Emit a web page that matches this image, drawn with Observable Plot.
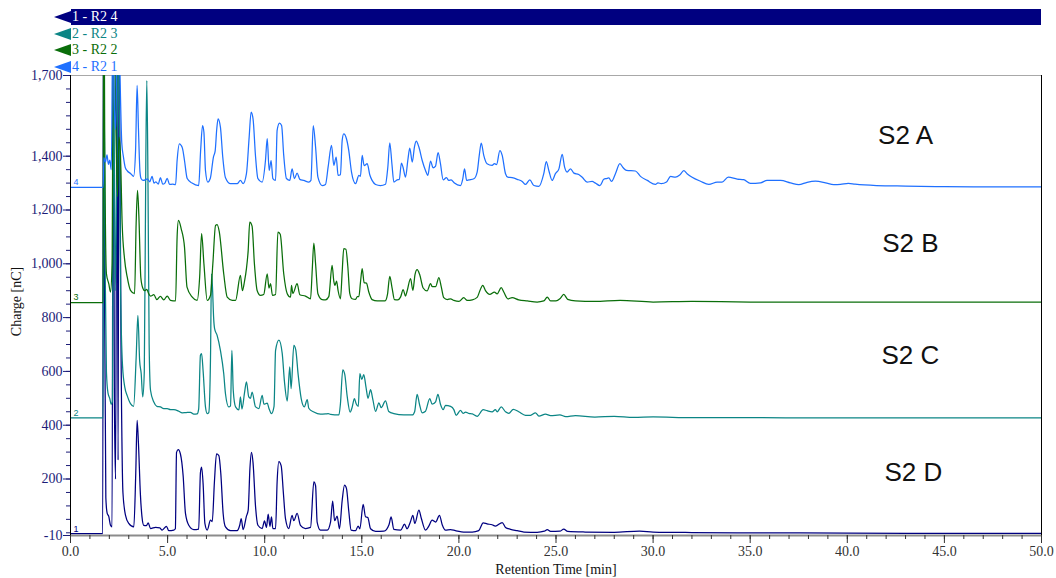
<!DOCTYPE html>
<html>
<head>
<meta charset="utf-8">
<script src="https://cdn.jsdelivr.net/npm/d3@7"></script>
<script src="https://cdn.jsdelivr.net/npm/@observablehq/plot@0.6"></script>
<style>
  body { margin: 0; background: #fff; }
  #chart { position: relative; width: 1056px; height: 578px; background: #fff; }
  #legend { position: relative; z-index: 2; height: 50px; font-family: "Liberation Serif", "Times New Roman", serif; font-size: 14px; }
  #plot { position: relative; z-index: 1; }
  .row { position: absolute; left: 54px; height: 16px; line-height: 16px; white-space: nowrap; }
  .row svg { position: absolute; left: 0; top: 2px; }
  .row span { position: absolute; left: 18px; top: 0; }
  .row .fill { position: absolute; left: 17px; top: 0; height: 16px; }
</style>
</head>
<body>
<div id="chart">
  <div id="legend"></div>
  <div id="plot"></div>
</div>
<script>
// Retention time (min) / charge (nC) pairs for each chromatogram, read peak by peak.
// Trace 4 – R2 1 (sample S2 A)
const s2A = [
  [0,1284],[1.68,1284],[1.72,1395],[1.80,1378],[1.88,1405],[1.95,1370],[2.02,1385],[2.10,1350],
  [2.18,1900],[2.25,1600],[2.33,1500],[2.42,2100],[2.52,1800],[2.64,1450],[2.72,1400],[2.82,1358],
  [2.93,1345],[3.09,1336],[3.25,1325],[3.35,1420],[3.43,1663],[3.50,1500],[3.58,1340],[3.64,1316],
  [3.74,1310],[3.85,1312],[3.95,1316],[4.08,1305],[4.20,1325],[4.30,1300],[4.40,1305],[4.52,1296],
  [4.63,1320],[4.75,1296],[4.86,1300],[4.98,1318],[5.10,1295],[5.25,1296],[5.41,1294],[5.49,1384],
  [5.61,1446],[5.70,1440],[5.77,1428],[5.87,1384],[6.01,1317],[6.26,1300],[6.60,1291],[6.70,1420],
  [6.80,1514],[6.87,1489],[6.95,1347],[7.07,1304],[7.20,1318],[7.36,1397],[7.45,1420],[7.53,1500],
  [7.60,1539],[7.72,1508],[7.84,1397],[7.98,1320],[8.24,1298],[8.58,1298],[8.75,1310],[8.89,1298],
  [9.06,1335],[9.20,1471],[9.30,1564],[9.40,1539],[9.53,1397],[9.65,1317],[9.87,1304],[10.04,1384],
  [10.13,1465],[10.23,1347],[10.33,1384],[10.42,1317],[10.56,1310],[10.64,1496],[10.76,1523],[10.87,1514],
  [10.98,1403],[11.12,1317],[11.29,1310],[11.41,1353],[11.53,1317],[11.67,1337],[11.81,1314],[12.01,1310],
  [12.27,1304],[12.38,1310],[12.50,1514],[12.62,1434],[12.74,1322],[12.96,1291],[13.13,1295],[13.27,1362],
  [13.44,1440],[13.56,1366],[13.68,1397],[13.78,1329],[13.90,1331],[13.99,1459],[14.07,1483],[14.21,1465],
  [14.33,1421],[14.47,1341],[14.68,1298],[14.85,1329],[14.93,1325],[15.02,1403],[15.12,1365],[15.28,1372],
  [15.41,1331],[15.53,1310],[15.71,1295],[15.96,1291],[16.22,1296],[16.34,1359],[16.44,1450],[16.55,1372],
  [16.65,1304],[16.82,1312],[16.93,1314],[17.04,1374],[17.12,1360],[17.25,1322],[17.37,1385],[17.47,1430],
  [17.60,1378],[17.71,1434],[17.80,1456],[17.94,1434],[18.11,1384],[18.28,1347],[18.40,1329],[18.54,1382],
  [18.67,1357],[18.79,1362],[18.93,1413],[19.05,1372],[19.19,1312],[19.36,1320],[19.48,1310],[19.60,1312],
  [19.77,1300],[20.08,1291],[20.20,1316],[20.29,1353],[20.40,1310],[20.51,1312],[20.77,1316],[20.94,1341],
  [21.05,1404],[21.15,1449],[21.28,1403],[21.45,1372],[21.71,1366],[21.83,1372],[21.94,1369],[22.11,1421],
  [22.23,1403],[22.40,1335],[22.52,1322],[22.74,1320],[23.00,1314],[23.26,1306],[23.43,1295],[23.65,1312],
  [23.86,1291],[24.12,1288],[24.37,1335],[24.50,1380],[24.63,1347],[24.80,1310],[24.97,1335],[25.15,1353],
  [25.32,1407],[25.44,1360],[25.57,1341],[25.75,1353],[25.92,1337],[26.17,1332],[26.35,1322],[26.60,1304],
  [26.86,1306],[27.03,1300],[27.26,1291],[27.46,1314],[27.60,1317],[27.72,1319],[27.86,1306],[28.06,1335],
  [28.29,1372],[28.46,1357],[28.63,1347],[29.09,1345],[29.35,1325],[29.70,1310],[30.12,1295],[30.25,1301],
  [30.42,1298],[30.69,1304],[30.90,1325],[31.15,1322],[31.37,1330],[31.58,1346],[31.75,1335],[32.01,1322],
  [32.44,1307],[32.87,1295],[33.30,1304],[33.55,1304],[33.87,1322],[34.33,1315],[34.66,1313],[35.01,1299],
  [35.53,1301],[35.87,1310],[36.56,1310],[37.07,1301],[37.50,1294],[37.93,1303],[38.36,1307],[38.88,1301],
  [39.30,1294],[39.65,1295],[40.05,1299],[40.40,1296],[41.5,1291],[43,1289],[45,1287],[47,1286],[50,1286]
];

// Trace 3 – R2 2 (sample S2 B)
const s2B = [
  [0,856],[1.68,856],[1.71,2300],[1.76,1500],[1.85,963],[1.97,926],[2.06,895],[2.14,1000],
  [2.22,2200],[2.32,1600],[2.42,1250],[2.49,1471],[2.57,1409],[2.66,1150],[2.78,1020],[2.92,951],
  [3.09,901],[3.30,889],[3.38,1150],[3.45,1273],[3.52,1180],[3.62,950],[3.72,910],[3.82,900],
  [3.93,905],[4.02,890],[4.12,880],[4.29,885],[4.45,867],[4.63,879],[4.80,866],[4.98,880],
  [5.15,864],[5.41,862],[5.49,1100],[5.56,1161],[5.70,1130],[5.87,1062],[6.00,913],[6.27,876],
  [6.52,864],[6.65,950],[6.75,1112],[6.87,1000],[7.04,864],[7.21,883],[7.33,1000],[7.47,1143],
  [7.55,1146],[7.66,1120],[7.89,963],[8.07,876],[8.33,864],[8.50,864],[8.75,957],[8.85,900],
  [8.96,935],[9.06,982],[9.15,1050],[9.23,1155],[9.35,1140],[9.47,1000],[9.61,901],[9.78,883],
  [9.95,886],[10.13,963],[10.22,910],[10.30,926],[10.40,883],[10.56,886],[10.68,1118],[10.80,1110],
  [10.98,963],[11.16,889],[11.33,876],[11.38,920],[11.45,890],[11.67,926],[11.81,885],[12.10,880],
  [12.36,870],[12.45,980],[12.53,1077],[12.62,1000],[12.74,889],[12.96,867],[13.13,866],[13.30,878],
  [13.47,994],[13.56,935],[13.62,920],[13.70,936],[13.78,900],[13.90,870],[13.99,970],[14.07,1056],
  [14.18,1054],[14.28,990],[14.38,890],[14.50,870],[14.68,868],[14.77,878],[14.85,878],[14.93,930],
  [15.02,982],[15.12,930],[15.24,928],[15.36,895],[15.53,867],[15.80,862],[16.20,862],[16.32,885],
  [16.44,953],[16.56,910],[16.68,867],[16.85,866],[17.00,877],[17.13,904],[17.25,880],[17.33,898],
  [17.51,945],[17.63,901],[17.74,960],[17.85,978],[17.98,960],[18.16,910],[18.36,899],[18.54,926],
  [18.63,915],[18.80,915],[18.97,949],[19.09,915],[19.22,874],[19.40,867],[19.57,870],[19.74,864],
  [20.00,860],[20.25,874],[20.43,864],[20.69,866],[20.94,875],[21.08,900],[21.23,920],[21.37,900],
  [21.59,886],[21.83,895],[21.97,888],[22.18,911],[22.31,895],[22.52,870],[22.74,874],[23.08,866],
  [23.52,862],[24.03,858],[24.37,862],[24.55,876],[24.72,862],[25.00,862],[25.20,870],[25.40,886],
  [25.60,868],[26.00,862],[27.00,860],[28.30,864],[30,858],[32,860],[35,858],[40,858],[45,858],[50,858]
];

// Trace 2 – R2 3 (sample S2 C)
const s2C = [
  [0,427],[1.68,427],[1.71,1900],[1.78,1000],[1.85,600],[1.93,520],[2.02,500],[2.10,478],
  [2.16,490],[2.22,1800],[2.30,900],[2.38,1300],[2.48,1900],[2.58,900],[2.68,620],[2.80,540],
  [2.92,510],[3.09,480],[3.25,470],[3.38,650],[3.47,808],[3.56,640],[3.64,592],[3.72,505],
  [3.80,600],[3.88,1400],[3.93,1681],[3.99,1300],[4.05,700],[4.12,530],[4.29,486],[4.45,470],
  [4.63,468],[4.80,462],[4.98,462],[5.15,458],[5.32,458],[5.58,452],[5.75,446],[5.95,447],
  [6.18,448],[6.35,441],[6.52,442],[6.60,460],[6.69,660],[6.75,666],[6.83,600],[6.95,468],
  [7.04,443],[7.12,447],[7.21,654],[7.26,963],[7.31,914],[7.37,800],[7.42,759],[7.55,734],
  [7.72,678],[7.89,592],[7.98,517],[8.15,468],[8.24,472],[8.31,678],[8.38,530],[8.50,468],
  [8.67,457],[8.75,505],[8.83,460],[8.96,520],[9.06,561],[9.18,505],[9.27,500],[9.35,523],
  [9.53,468],[9.70,462],[9.87,511],[9.96,478],[10.13,482],[10.22,462],[10.35,443],[10.48,470],
  [10.56,678],[10.73,716],[10.90,668],[11.02,560],[11.16,490],[11.29,617],[11.36,536],[11.50,697],
  [11.60,680],[11.72,590],[11.88,499],[12.04,468],[12.19,495],[12.27,463],[12.53,449],[12.87,441],
  [13.13,442],[13.27,443],[13.39,440],[13.82,438],[13.90,480],[14.02,606],[14.12,590],[14.25,506],
  [14.40,449],[14.50,466],[14.62,499],[14.71,480],[14.82,470],[14.90,592],[15.00,570],[15.10,588],
  [15.22,540],[15.32,500],[15.45,532],[15.57,495],[15.71,451],[15.88,483],[16.00,465],[16.22,490],
  [16.39,451],[16.65,443],[17.17,438],[17.60,438],[17.72,450],[17.85,515],[17.97,478],[18.11,446],
  [18.28,452],[18.50,499],[18.62,478],[18.80,487],[18.92,515],[19.05,478],[19.19,458],[19.31,474],
  [19.57,470],[19.74,458],[19.86,437],[20.08,455],[20.22,444],[20.34,449],[20.51,444],[20.69,442],
  [20.94,433],[21.25,458],[21.45,454],[21.71,450],[21.88,458],[21.97,450],[22.18,468],[22.40,450],
  [22.57,444],[22.80,459],[23.08,450],[23.43,437],[23.69,437],[23.94,446],[24.12,434],[24.46,441],
  [24.72,436],[25.2,438],[25.5,432],[26,436],[27,430],[28,433],[29,429],[30,431],[32,428],
  [35,428],[40,427],[45,427],[50,427]
];

// Trace 1 – R2 4 (sample S2 D)
const s2D = [
  [0,-3],[1.66,-3],[1.70,2200],[1.76,800],[1.82,130],[1.89,72],[1.97,61],[2.06,28],
  [2.14,22],[2.20,1900],[2.26,500],[2.32,200],[2.40,1900],[2.45,270],[2.50,1900],[2.60,700],
  [2.70,150],[2.83,66],[3.00,35],[3.26,22],[3.36,220],[3.43,418],[3.50,330],[3.60,142],
  [3.68,60],[3.77,28],[3.91,27],[4.00,37],[4.12,16],[4.38,20],[4.60,18],[4.72,10],
  [4.94,24],[5.06,8],[5.32,10],[5.40,15],[5.46,299],[5.55,309],[5.66,293],[5.80,212],
  [5.92,72],[6.09,28],[6.35,12],[6.60,14],[6.69,223],[6.75,244],[6.83,180],[6.92,35],
  [7.04,10],[7.21,47],[7.30,42],[7.41,188],[7.52,293],[7.64,287],[7.74,220],[7.86,72],
  [7.98,22],[8.24,8],[8.58,8],[8.72,30],[8.79,53],[8.89,12],[9.06,62],[9.15,84],
  [9.24,240],[9.32,299],[9.40,260],[9.53,96],[9.65,28],[9.87,16],[9.99,44],[10.09,20],
  [10.18,69],[10.27,24],[10.35,59],[10.42,16],[10.56,16],[10.64,190],[10.73,265],[10.85,249],
  [10.96,150],[11.07,53],[11.24,16],[11.41,65],[11.50,45],[11.67,72],[11.84,28],[12.10,16],
  [12.36,20],[12.53,189],[12.62,175],[12.70,40],[12.87,10],[13.22,10],[13.39,40],[13.50,118],
  [13.60,45],[13.73,62],[13.85,15],[13.99,120],[14.11,177],[14.21,165],[14.33,80],[14.45,10],
  [14.68,8],[14.81,25],[14.90,15],[15.07,106],[15.19,60],[15.31,57],[15.45,15],[15.71,5],
  [16.14,6],[16.40,30],[16.51,59],[16.65,13],[17.00,10],[17.20,32],[17.33,15],[17.50,40],
  [17.63,65],[17.73,35],[17.94,84],[18.06,55],[18.28,10],[18.45,25],[18.62,47],[18.80,40],
  [19.00,65],[19.14,30],[19.31,10],[19.57,12],[19.82,8],[20.34,3],[20.69,3],[21.02,8],
  [21.25,37],[21.45,33],[21.71,30],[21.88,25],[22.23,38],[22.40,20],[22.66,13],[23.00,8],
  [23.35,3],[24.03,2],[24.40,6],[24.55,12],[24.72,5],[25.2,6],[25.4,14],[25.6,5],
  [26.5,3],[28,2],[29.3,6],[30,3],[32,1],[35,0],[40,-1],[45,-2],[50,-2]
];

// Trace numbering, channel names and sample names
const traceIds = [1, 2, 3, 4];
const channelNames = ["R2 4", "R2 3", "R2 2", "R2 1"];
const sampleNames = ["S2 D", "S2 C", "S2 B", "S2 A"];
const traceSeries = [s2D, s2C, s2B, s2A];

// Axis ticks
const yLabelTicks = [-10, 200, 400, 600, 800, 1000, 1200, 1400, 1700];
const yMinorTicks = d3.range(0, 1700, 50);
const xLabelTicks = d3.range(0, 51, 5);
const xMinorTicks = d3.range(0, 51, 1);

const colors = ["#000080", "#0b8585", "#0a6e0a", "#1f70ff"];

const rows = traceSeries.flatMap((series, i) =>
  series.map(([t, v]) => ({trace: traceIds[i], t, charge: v}))
);
const baselines = traceSeries.map((series, i) => ({trace: traceIds[i], t: series[0][0], charge: series[0][1]}));

// Legend strip above the chart: one row per trace, the first one highlighted
const legend = document.getElementById("legend");
traceIds.forEach((id, i) => {
  const row = document.createElement("div");
  row.className = "row";
  row.style.top = (9 + i * 16.5) + "px";
  const c = colors[i];
  row.innerHTML =
    (i === 0 ? `<div class="fill" style="width:970px;background:${c}"></div>` : "") +
    `<svg width="17" height="12"><polygon points="0,6 17,0 17,12" fill="${c}"/></svg>` +
    `<span style="color:${i === 0 ? "#fff" : c}">${id} - ${channelNames[i]}</span>`;
  legend.appendChild(row);
});

const fmt = d => d.toLocaleString("en-US");
const axisColor = "#1c1c78";

const chart = Plot.plot({
  width: 1056,
  height: 528,
  marginTop: 25,
  marginBottom: 43,
  marginLeft: 70,
  marginRight: 15,
  x: {domain: [0, 50]},
  y: {domain: [-10, 1700]},
  color: {domain: traceIds, range: colors},
  style: {fontFamily: "'Liberation Serif', 'Times New Roman', serif", fontSize: "14px", background: "transparent"},
  marks: [
    Plot.ruleY([1700], {stroke: "#a8a8a8"}),
    Plot.lineY(rows, {x: "t", y: "charge", z: "trace", stroke: "trace", strokeWidth: 1.25, curve: "monotone-x", clip: true}),
    Plot.text(baselines, {x: "t", y: "charge", text: d => String(d.trace), fill: "trace", dx: 3, dy: -5, textAnchor: "start", fontSize: 9, fontFamily: "'Liberation Sans', Arial, sans-serif"}),
    Plot.ruleY([-10], {stroke: "#8c8c8c", strokeWidth: 2}),
    Plot.ruleX([0], {stroke: "#000"}),
    Plot.ruleX([50], {stroke: "#000"}),
    Plot.axisY({ticks: yLabelTicks, tickFormat: fmt, tickSize: 7, tickPadding: 1, color: axisColor, label: null, fontSize: 14}),
    Plot.axisY({ticks: yMinorTicks, tickFormat: () => "", tickSize: 4, color: axisColor, label: null}),
    Plot.axisX({ticks: xLabelTicks, tickFormat: d => d.toFixed(1), tickSize: 8, tickPadding: 3, color: "#333", label: null, fontSize: 14}),
    Plot.axisX({ticks: xMinorTicks, tickFormat: () => "", tickSize: 4, color: "#333", label: null}),
    Plot.text(["Charge [nC]"], {frameAnchor: "left", textAnchor: "middle", rotate: -90, dx: -54, dy: -4, fontSize: 14, fill: "#111"}),
    Plot.text(["Retention Time [min]"], {frameAnchor: "bottom", dy: 38, fontSize: 14, fill: "#111"}),
    Plot.text(sampleNames, {
      x: [43.4, 43.25, 43.25, 43.0],
      y: [225, 660, 1076, 1477],
      text: d => d,
      fontSize: 26,
      fontFamily: "'Liberation Sans', Arial, sans-serif",
      fill: "#111"
    })
  ]
});
document.getElementById("plot").appendChild(chart);
</script>
</body>
</html>
